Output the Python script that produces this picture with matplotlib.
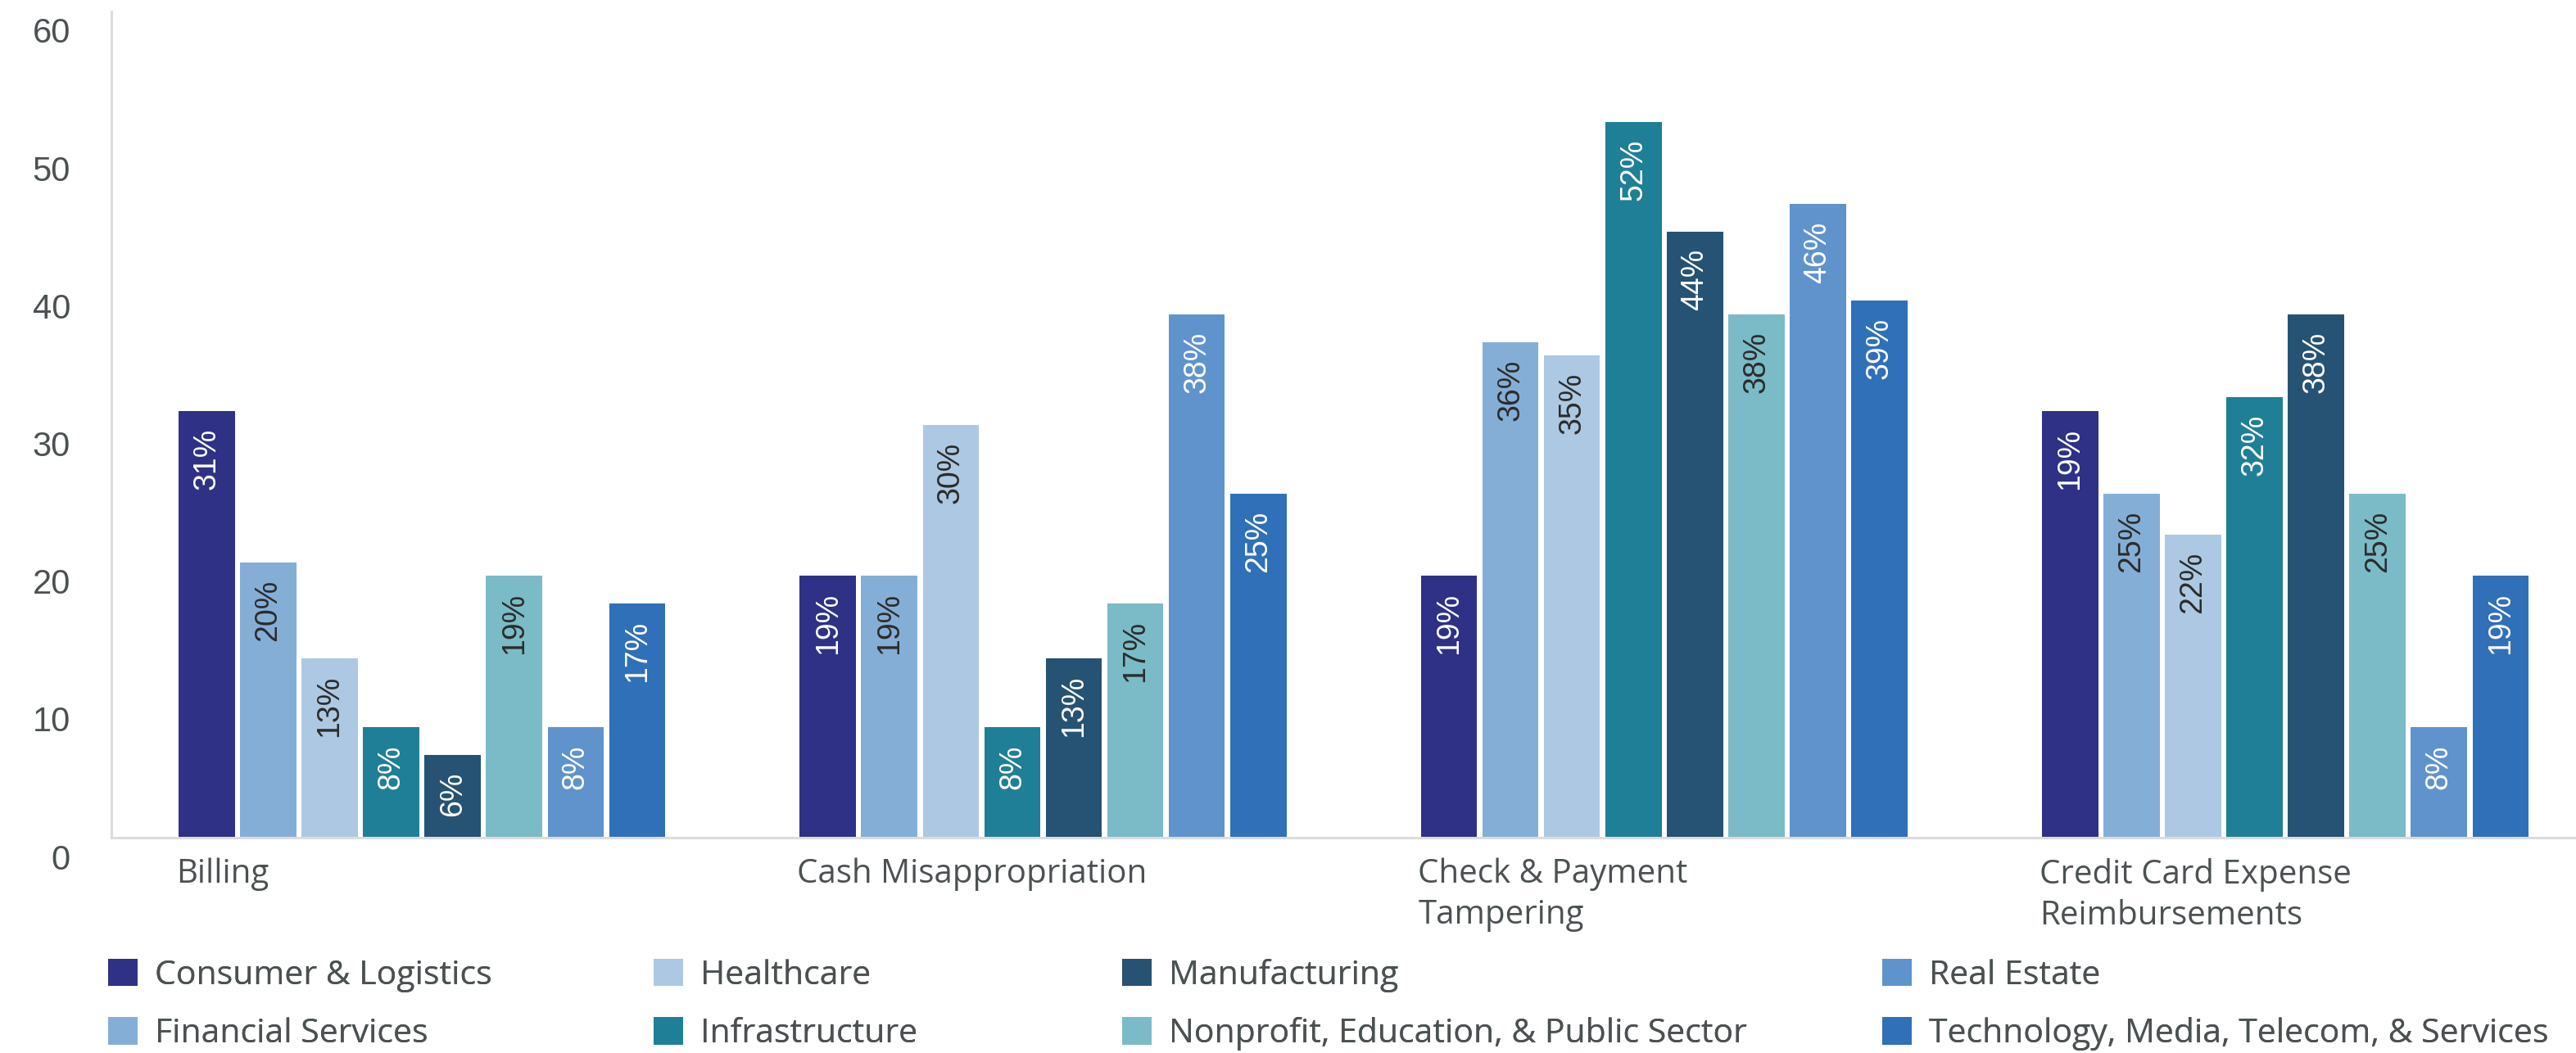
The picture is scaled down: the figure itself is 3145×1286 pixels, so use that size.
import matplotlib
matplotlib.use("Agg")
import matplotlib.pyplot as plt
import matplotlib.transforms as mtransforms
from matplotlib.patches import Patch
import numpy as np

# ---------------- data ----------------
categories = ["Billing", "Cash Misappropriation", "Check & Payment\nTampering",
              "Credit Card Expense\nReimbursements"]
series_names = ["Consumer & Logistics", "Financial Services", "Healthcare", "Infrastructure",
                "Manufacturing", "Nonprofit, Education, & Public Sector", "Real Estate",
                "Technology, Media, Telecom, & Services"]
consumer = [31, 19, 19, 31]
consumer_printed = [31, 19, 19, 19]   # label as printed in the source chart
financial = [20, 19, 36, 25]
healthcare = [13, 30, 35, 22]
infrastructure = [8, 8, 52, 32]
manufacturing = [6, 13, 44, 38]
nonprofit = [19, 17, 38, 25]
real_estate = [8, 38, 46, 8]
technology = [17, 25, 39, 19]
y_ticks = [0, 10, 20, 30, 40, 50, 60]

series_values = [consumer, financial, healthcare, infrastructure,
                 manufacturing, nonprofit, real_estate, technology]
series_labels = [consumer_printed, financial, healthcare, infrastructure,
                 manufacturing, nonprofit, real_estate, technology]

# ---------------- style ----------------
colors = ["#2E3185", "#85AED7", "#ADC8E3", "#1F7F96",
          "#265273", "#7BBBC7", "#6093CC", "#2F70B8"]
label_colors = ["white", "#2b2b2b", "#2b2b2b", "white",
                "white", "#2b2b2b", "white", "white"]
text_grey = "#4b5152"
axis_grey = "#dcdcdc"

W, H, DPI = 3145, 1286, 100
fig = plt.figure(figsize=(W / DPI, H / DPI), dpi=DPI)
ax = fig.add_axes([136 / W, 1 - 1023 / H, 1 - 136 / W, (1023 - 14) / H])

n = len(series_values)
pitch = 0.099
bar_w = 0.0905
x = np.arange(len(categories))
group_left = x - n * pitch / 2

for i, (vals, labs) in enumerate(zip(series_values, series_labels)):
    xpos = group_left + pitch * (i + 0.5)
    bars = ax.bar(xpos, vals, width=bar_w, color=colors[i], label=series_names[i], zorder=2)
    ax.bar_label(bars, labels=[f"{v}%" for v in labs], rotation=90, padding=-15,
                 color=label_colors[i], fontsize=27, family="Liberation Sans",
                 label_type="edge")
for t in ax.texts:
    t.set_va("top")

ax.set_xlim(-0.5, 3.468)
ax.set_ylim(0, 60)

# spines
for s in ["top", "right"]:
    ax.spines[s].set_visible(False)
ax.spines["left"].set_color(axis_grey)
ax.spines["bottom"].set_color(axis_grey)
ax.spines["left"].set_linewidth(2.2)
ax.spines["bottom"].set_linewidth(2.2)
ax.tick_params(length=0)

# y ticks
ax.set_yticks(y_ticks)
ax.set_yticklabels([str(v) for v in y_ticks], fontsize=30, color=text_grey,
                   family="Liberation Sans")
ax.tick_params(axis="y", pad=36)
off = mtransforms.ScaledTranslation(0, -0.23, fig.dpi_scale_trans)
for lab in ax.get_yticklabels():
    lab.set_transform(lab.get_transform() + off)

# x ticks (left aligned at group start)
ax.set_xticks(group_left)
ax.set_xticklabels(categories, ha="left", va="top", fontsize=29, color=text_grey,
                   family="Open Sans", linespacing=1.3)
ax.tick_params(axis="x", pad=18)

# legend: four columns, two rows each
handles = [Patch(facecolor=c, edgecolor="none") for c in colors]
col_x = [132 / W, 798 / W, 1370 / W, 2298 / W]
leg_y = 1 - 1227 / H
for k in range(4):
    hs = handles[2 * k:2 * k + 2]
    ls = series_names[2 * k:2 * k + 2]
    leg = fig.legend(hs, ls, loc="center left", bbox_to_anchor=(col_x[k], leg_y),
                     bbox_transform=fig.transFigure, frameon=False, ncol=1,
                     prop={"family": "Open Sans", "size": 29.5},
                     handlelength=0.88, handleheight=0.88,
                     handletextpad=0.5, labelspacing=0.74, borderpad=0,
                     borderaxespad=0)
    for t in leg.get_texts():
        t.set_color(text_grey)
    fig.add_artist(leg)

fig.savefig("out.png", dpi=DPI)
